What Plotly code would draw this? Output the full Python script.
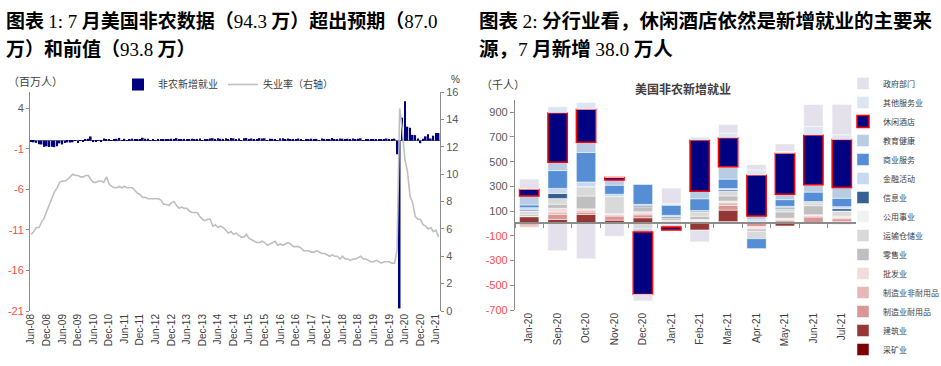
import plotly.graph_objects as go
import pandas as pd

W, H = 941, 366

# ---------------- Left chart data (millions / %) ----------------
months = pd.date_range("2008-06-01", periods=158, freq="MS")
nfp = [
    -0.172, -0.210, -0.267, -0.450, -0.474, -0.766, -0.694,
    -0.784, -0.743, -0.800, -0.695, -0.334, -0.466, -0.296, -0.213, -0.220, -0.204, -0.002, -0.275,
    0.014, -0.066, 0.163, 0.232, 0.522, -0.133, -0.070, -0.034, -0.052, 0.262, 0.119, 0.087,
    0.043, 0.189, 0.225, 0.346, 0.077, 0.225, 0.069, 0.110, 0.248, 0.209, 0.141, 0.209,
    0.358, 0.237, 0.233, 0.078, 0.115, 0.076, 0.143, 0.177, 0.203, 0.146, 0.132, 0.244,
    0.190, 0.311, 0.135, 0.192, 0.218, 0.146, 0.140, 0.247, 0.173, 0.213, 0.268, 0.046,
    0.187, 0.168, 0.272, 0.310, 0.213, 0.306, 0.232, 0.218, 0.286, 0.200, 0.331, 0.286,
    0.190, 0.271, 0.070, 0.309, 0.331, 0.194, 0.268, 0.127, 0.155, 0.315, 0.252, 0.297,
    0.077, 0.230, 0.228, 0.164, 0.040, 0.277, 0.302, 0.158, 0.256, 0.131, 0.163, 0.158,
    0.259, 0.195, 0.073, 0.175, 0.155, 0.239, 0.190, 0.221, 0.014, 0.255, 0.216, 0.171,
    0.142, 0.328, 0.178, 0.201, 0.277, 0.239, 0.099, 0.231, 0.094, 0.270, 0.159, 0.230,
    0.289, 0.001, 0.147, 0.210, 0.085, 0.182, 0.194, 0.207, 0.208, 0.185, 0.261, 0.184,
    0.214, 0.251, -1.683, -20.679, 2.833, 4.846, 1.726, 1.583, 0.716, 0.680, 0.264, -0.306,
    0.233, 0.536, 0.785, 0.269, 0.614, 0.938, 0.943,
]
unemp = [
    5.6, 5.8, 6.1, 6.1, 6.5, 6.8, 7.3,
    7.8, 8.3, 8.7, 9.0, 9.4, 9.5, 9.5, 9.6, 9.8, 10.0, 9.9, 9.9,
    9.8, 9.8, 9.9, 9.9, 9.6, 9.4, 9.4, 9.5, 9.5, 9.4, 9.8, 9.3,
    9.1, 9.0, 9.0, 9.1, 9.0, 9.1, 9.0, 9.0, 9.0, 8.8, 8.6, 8.5,
    8.3, 8.3, 8.2, 8.2, 8.2, 8.2, 8.2, 8.1, 7.8, 7.8, 7.7, 7.9,
    8.0, 7.7, 7.5, 7.6, 7.5, 7.5, 7.3, 7.2, 7.2, 7.2, 6.9, 6.7,
    6.6, 6.7, 6.7, 6.2, 6.3, 6.1, 6.2, 6.1, 5.9, 5.7, 5.8, 5.6,
    5.7, 5.5, 5.4, 5.4, 5.6, 5.3, 5.2, 5.1, 5.0, 5.0, 5.1, 5.0,
    4.8, 4.9, 5.0, 5.1, 4.8, 4.9, 4.8, 4.9, 5.0, 4.9, 4.7, 4.7,
    4.7, 4.6, 4.4, 4.4, 4.4, 4.3, 4.3, 4.4, 4.3, 4.2, 4.2, 4.1,
    4.0, 4.1, 4.0, 4.0, 3.8, 4.0, 3.8, 3.8, 3.7, 3.8, 3.8, 3.9,
    4.0, 3.8, 3.8, 3.7, 3.6, 3.6, 3.7, 3.6, 3.5, 3.6, 3.6, 3.6,
    3.5, 3.5, 4.4, 14.8, 13.3, 11.1, 10.2, 8.4, 7.9, 6.9, 6.7, 6.7,
    6.3, 6.2, 6.0, 6.1, 5.8, 5.9, 5.4,
]
left_ticks = [-21, -16, -11, -6, -1, 4]

# ---------------- Right chart data (thousands) ----------------
cats = ["Jan-20", "Sep-20", "Oct-20", "Nov-20", "Dec-20", "Jan-21",
        "Feb-21", "Mar-21", "Apr-21", "May-21", "Jun-21", "Jul-21"]
mining      = [-5, 0, 0, 0, 0, 0, 0, 16, 0, 0, 8, 5]
construct   = [55, 33, 73, 27, 46, 10, -54, 92, 0, -20, 0, 11]
durable     = [-15, 41, 19, 33, 24, 8, 16, 38, -25, 22, 44, 22]
nondurable  = [-10, 19, 16, 10, 14, -8, 8, 22, -10, 10, 10, 11]
wholesale   = [5, 30, 11, 9, 11, 8, 8, 14, -10, 12, 9, 11]
retail      = [15, 33, 103, 0, 41, 20, 27, 41, -18, 50, 73, -6]
transport   = [26, 46, 76, 139, -44, -20, 33, 38, -60, 26, 24, 41]
utilities   = [0, 0, 0, 0, 0, 0, 0, 0, 5, 0, 0, 0]
information = [8, 41, 0, 0, 11, 10, 8, 11, 10, 11, 5, 19]
financial   = [19, 41, 38, 19, 8, 10, 5, 11, 15, 8, 5, 16]
business    = [22, 144, 239, 73, 163, 82, 95, 76, -80, 54, 76, 68]
eduhealth   = [73, 68, 82, 41, -24, 8, 60, 101, 30, 44, 60, 87]
leisure     = [54, 400, 267, 22, -506, -25, 416, 234, 332, 332, 403, 389]
otherserv   = [6, 49, 54, 0, 0, 5, 22, 38, 41, 14, 68, 38]
government  = [76, -220, -285, -103, -52, 125, -95, 68, 44, 60, 177, 245]
right_ticks = [-700, -500, -300, -100, 100, 300, 500, 700, 900]

industries = [
    ("采矿业", mining, "#7F0000"),
    ("建筑业", construct, "#953735"),
    ("制造业耐用品", durable, "#D99694"),
    ("制造业非耐用品", nondurable, "#E6B9B8"),
    ("批发业", wholesale, "#F2DCDB"),
    ("零售业", retail, "#BFBFBF"),
    ("运输仓储业", transport, "#D9D9D9"),
    ("公用事业", utilities, "#F2F2F2"),
    ("信息业", information, "#376092"),
    ("金融活动", financial, "#C6D9F1"),
    ("商业服务", business, "#558ED5"),
    ("教育健康", eduhealth, "#B8CCE4"),
    ("休闲酒店", leisure, "#000080"),
    ("其他服务业", otherserv, "#DCE6F2"),
    ("政府部门", government, "#E4E0EC"),
]

RED = "#FF4B4B"
GRAY = "#595959"
AX = "#8C8C8C"

def px(x):
    return x / W

def py(y):
    return 1 - y / H

fig = go.Figure()

# left chart
fig.add_trace(go.Bar(x=months, y=nfp, name="非农新增就业", marker=dict(color="#000080", line=dict(width=0)),
                     xaxis="x", yaxis="y", legend="legend"))
fig.add_trace(go.Scatter(x=months, y=unemp, name="失业率（右轴）", mode="lines",
                         line=dict(color="#BFBFBF", width=1.6), xaxis="x", yaxis="y2", legend="legend"))

# right chart
for name, vals, col in industries:
    if name == "休闲酒店":
        line = dict(color="#FF0000", width=1.5)
    else:
        line = dict(color="rgba(255,255,255,0.6)", width=0.8)
    fig.add_trace(go.Bar(x=cats, y=vals, name=name, marker=dict(color=col, line=line),
                         xaxis="x2", yaxis="y3", legend="legend2"))

# helper trace for the zero-line category axis
fig.add_trace(go.Scatter(x=cats, y=[0] * len(cats), mode="lines", line=dict(width=0, color="rgba(0,0,0,0)"),
                         xaxis="x3", yaxis="y3", showlegend=False, hoverinfo="skip"))

# domains
lx = [px(30), px(440)]
ly = [py(311), py(92)]
rx = [px(515), px(856)]
ry = [py(310), py(99.9)]
r_range = [-700, 1000]
zero_pos = ry[0] + (0 - r_range[0]) / (r_range[1] - r_range[0]) * (ry[1] - ry[0])

tickfont = dict(size=11, color=GRAY)

def colored(vals):
    return [f"<span style='color:{RED if v < 0 else GRAY}'>{v}</span>" for v in vals]

fig.update_layout(
    width=W, height=H, autosize=False,
    margin=dict(l=0, r=0, t=0, b=0, autoexpand=False),
    paper_bgcolor="white", plot_bgcolor="white",
    font=dict(family="Liberation Sans, Noto Sans CJK SC", size=11, color=GRAY),
    barmode="relative", bargap=0.32,
    showlegend=True,
    xaxis=dict(domain=lx, anchor="y", type="date", range=["2008-05-18", "2021-07-18"],
               tick0="2008-06-01", dtick="M6", tickformat="%b-%y", tickangle=-90,
               showline=False, ticks="", showgrid=False, zeroline=False,
               tickfont=dict(size=10, color="#404040")),
    yaxis=dict(domain=ly, anchor="x", range=[-21, 6], tickvals=left_ticks, ticktext=colored(left_ticks),
               showline=True, linecolor=AX, linewidth=1, ticks="outside", ticklen=3, tickcolor=AX,
               showgrid=False, zeroline=True, zerolinecolor="#7F7F7F", zerolinewidth=1.2,
               tickfont=tickfont),
    yaxis2=dict(overlaying="y", anchor="x", side="right", range=[0, 16], dtick=2, tick0=0,
                showline=True, linecolor=AX, linewidth=1, ticks="outside", ticklen=3, tickcolor=AX,
                showgrid=False, zeroline=False, tickfont=tickfont),
    xaxis2=dict(domain=rx, anchor="y3", type="category", categoryorder="array", categoryarray=cats,
                range=[-0.5, len(cats) - 0.5], tickangle=-90, showline=False, ticks="",
                showgrid=False, zeroline=False, tickfont=dict(size=10, color="#404040")),
    xaxis3=dict(overlaying="x2", anchor="free", position=zero_pos, type="category",
                categoryorder="array", categoryarray=cats, range=[-0.5, len(cats) - 0.5],
                showline=True, linecolor=AX, linewidth=1.5, ticks="outside", ticklen=4,
                tickcolor=AX, tickwidth=1.2, tickson="boundaries", showticklabels=False,
                showgrid=False, zeroline=False),
    yaxis3=dict(domain=ry, anchor="x2", range=r_range, tickvals=right_ticks, ticktext=colored(right_ticks),
                showline=True, linecolor=AX, linewidth=1.2, ticks="outside", ticklen=4, tickcolor=AX,
                showgrid=False, zeroline=False, tickfont=tickfont),
    legend=dict(x=px(118), y=py(70), xanchor="left", yanchor="top", orientation="h",
                font=dict(size=10, color="#404040"), bgcolor="rgba(0,0,0,0)", itemwidth=30),
    legend2=dict(x=px(843), y=py(69), xanchor="left", yanchor="top", orientation="v",
                 traceorder="reversed",
                 font=dict(size=8, color="#404040"), bgcolor="rgba(0,0,0,0)", itemwidth=30),
)

SERIF = "font-family:Liberation Serif;font-weight:normal"

def s(t):
    return f"<span style='{SERIF}'>{t}</span>"

title_font = dict(family="Noto Sans CJK SC, Liberation Sans", size=19, color="#000000")
right_title_font = dict(family="Noto Sans CJK SC, Liberation Sans", size=19.5, color="#000000")
annots = [
    (4, 20, "<b>图表 </b>" + s("1: 7") + "<b> 月美国非农数据（</b>" + s("94.3") + "<b> 万）超出预期（</b>" + s("87.0"), title_font),
    (4, 47, "<b>万）和前值（</b>" + s("93.8") + "<b> 万）</b>", title_font),
    (477, 20, "<b>图表 </b>" + s("2:") + "<b> 分行业看，休闲酒店依然是新增就业的主要来</b>", right_title_font),
    (477, 47, "<b>源，</b>" + s("7") + "<b> 月新增 </b>" + s("38.0") + "<b> 万人</b>", right_title_font),
]
for x, y, t, f in annots:
    fig.add_annotation(text=t, x=px(x), y=py(y), xref="paper", yref="paper", xanchor="left",
                       yanchor="middle", showarrow=False, font=f)

fig.add_annotation(text="（百万人）", x=px(6), y=py(82), xref="paper", yref="paper", xanchor="left",
                   yanchor="middle", showarrow=False, font=dict(size=11, color="#404040"))
fig.add_annotation(text="%", x=px(455), y=py(79), xref="paper", yref="paper", xanchor="center",
                   yanchor="middle", showarrow=False, font=dict(size=10, color="#404040"))
fig.add_annotation(text="（千人）", x=px(479), y=py(85), xref="paper", yref="paper", xanchor="left",
                   yanchor="middle", showarrow=False, font=dict(size=11, color="#404040"))
fig.add_annotation(text="<b>美国非农新增就业</b>", x=px(683), y=py(88), xref="paper", yref="paper",
                   xanchor="center", yanchor="middle", showarrow=False,
                   font=dict(family="Noto Sans CJK SC", size=12, color="#404040"))

fig.write_html("out.html", config={"displayModeBar": False},
               post_script="document.body.style.margin='0px';document.body.style.padding='0px';")
